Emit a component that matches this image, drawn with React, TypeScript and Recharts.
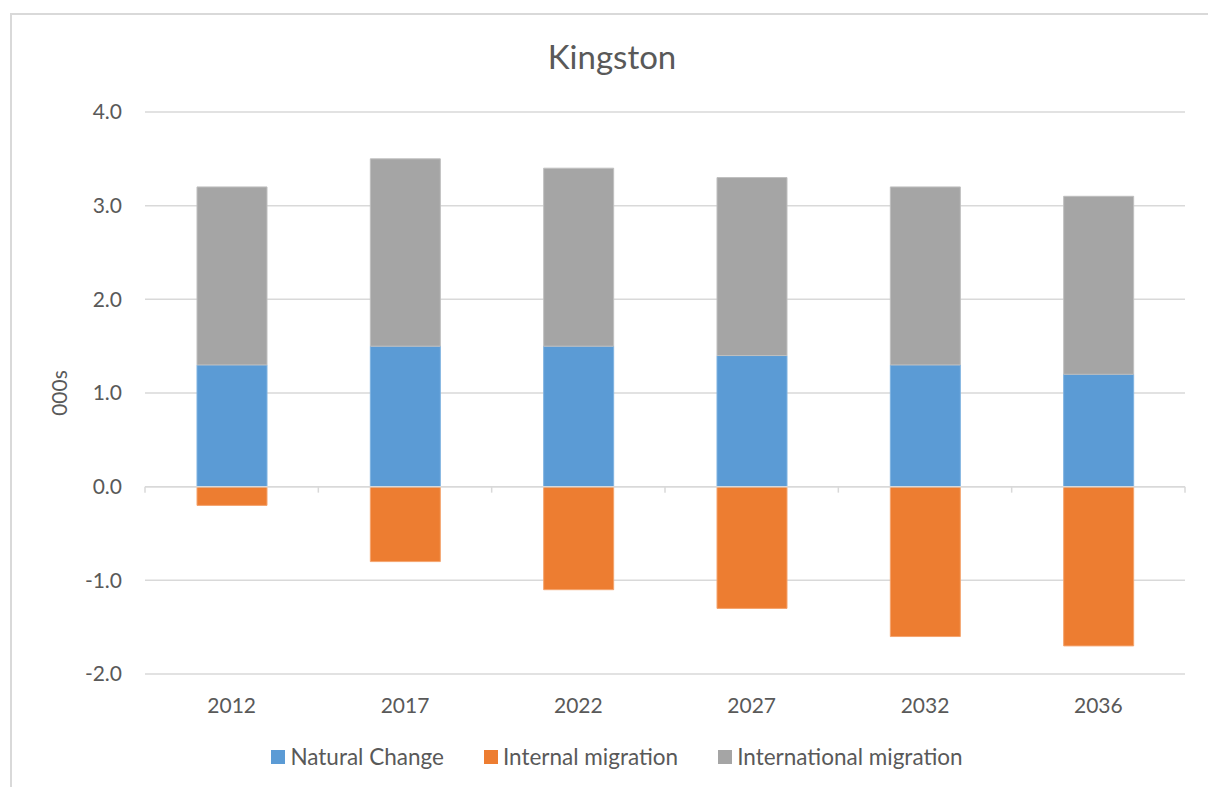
import React from "react";
import {
  BarChart,
  Bar,
  XAxis,
  YAxis,
  CartesianGrid,
  Legend,
  ReferenceLine,
  Label,
} from "recharts";

const years = ["2012", "2017", "2022", "2027", "2032", "2036"];
const naturalChange = [1.3, 1.5, 1.5, 1.4, 1.3, 1.2];
const internalMigration = [-0.2, -0.8, -1.1, -1.3, -1.6, -1.7];
const internationalMigration = [1.9, 2.0, 1.9, 1.9, 1.9, 1.9];
const yTicks = [-2, -1, 0, 1, 2, 3, 4];
const seriesNames = ["Natural Change", "Internal migration", "International migration"];

const data = years.map((year, i) => ({
  year,
  nc: naturalChange[i],
  im: internalMigration[i],
  intl: internationalMigration[i],
}));

const FONT = "Lato, 'Open Sans', sans-serif";
const TEXT = "#595959";
const GRID = "#D9D9D9";

const ZeroAxis = (props: any) => {
  const { x1, x2, y1 } = props;
  const n = years.length;
  const step = (x2 - x1) / n;
  const ticks = [];
  for (let i = 0; i <= n; i++) {
    const x = x1 + step * i;
    ticks.push(
      <line key={i} x1={x} x2={x} y1={y1} y2={y1 + 6} stroke={GRID} strokeWidth={1.5} />
    );
  }
  return (
    <g>
      <line x1={x1} x2={x2} y1={y1} y2={y1} stroke={GRID} strokeWidth={1.5} />
      {ticks}
    </g>
  );
};

const LegendContent = (props: any) => {
  const payload = [...(props.payload || [])].sort(
    (a: any, b: any) => seriesNames.indexOf(a.value) - seriesNames.indexOf(b.value)
  );
  return (
    <div
      style={{
        display: "flex",
        justifyContent: "center",
        gap: 40,
        fontFamily: FONT,
        fontSize: 22.5,
        color: TEXT,
        lineHeight: "27px",
      }}
    >
      {payload.map((p: any) => (
        <div key={p.value} style={{ display: "flex", alignItems: "center" }}>
          <span
            style={{
              display: "inline-block",
              width: 14,
              height: 14,
              background: p.color,
              marginRight: 5,
            }}
          />
          <span>{p.value}</span>
        </div>
      ))}
    </div>
  );
};

export default function App() {
  return (
    <div style={{ position: "absolute", left: 0, top: 0, width: 1208, height: 787, overflow: "hidden", background: "#fff" }}>
      <div
        style={{
          position: "absolute",
          left: 10,
          top: 13,
          width: 1220,
          height: 800,
          border: "2px solid #D9D9D9",
          boxSizing: "border-box",
        }}
      />
      <div
        style={{
          position: "absolute",
          left: 0,
          width: 1224,
          top: 36,
          textAlign: "center",
          fontFamily: FONT,
          fontSize: 33,
          color: TEXT,
          lineHeight: "40px",
        }}
      >
        Kingston
      </div>
      <div style={{ position: "absolute", left: 0, top: 0 }}>
        <BarChart
          width={1208}
          height={787}
          data={data}
          stackOffset="sign"
          margin={{ top: 112, right: 23, bottom: 46, left: 85 }}
          barSize={70}
        >
          <CartesianGrid vertical={false} stroke={GRID} strokeWidth={1.5} />
          <XAxis
            dataKey="year"
            axisLine={false}
            tickLine={false}
            tickSize={0}
            tickMargin={24}
            height={40}
            tick={{ fill: TEXT, fontSize: 21, fontFamily: FONT }}
            interval={0}
          />
          <YAxis
            domain={[-2, 4]}
            ticks={yTicks}
            type="number"
            allowDataOverflow
            axisLine={false}
            tickLine={false}
            tickSize={0}
            tickMargin={23}
            width={60}
            tickFormatter={(v: number) => v.toFixed(1)}
            tick={{ fill: TEXT, fontSize: 21, fontFamily: FONT }}
          >
            <Label
              content={(p: any) => {
                const vb = p.viewBox;
                const cx = 58;
                const cy = vb.y + vb.height / 2;
                return (
                  <text
                    x={cx}
                    y={cy}
                    transform={`rotate(-90 ${cx} ${cy})`}
                    textAnchor="middle"
                    dominantBaseline="central"
                    fill={TEXT}
                    style={{ fontSize: 21, fontFamily: FONT }}
                  >
                    000s
                  </text>
                );
              }}
            />
          </YAxis>
          <ReferenceLine y={0} shape={ZeroAxis} />
          <Bar dataKey="nc" name="Natural Change" stackId="a" fill="#5B9BD5" stroke="#7FB2E0" strokeWidth={1} isAnimationActive={false} />
          <Bar dataKey="im" name="Internal migration" stackId="a" fill="#ED7D31" stroke="#F4A46E" strokeWidth={1} isAnimationActive={false} />
          <Bar dataKey="intl" name="International migration" stackId="a" fill="#A5A5A5" stroke="#BFBFBF" strokeWidth={1} isAnimationActive={false} />
          <Legend
            verticalAlign="bottom"
            content={LegendContent}
            wrapperStyle={{ left: 0, width: 1234, top: 743, bottom: "auto" }}
          />
        </BarChart>
      </div>
    </div>
  );
}
